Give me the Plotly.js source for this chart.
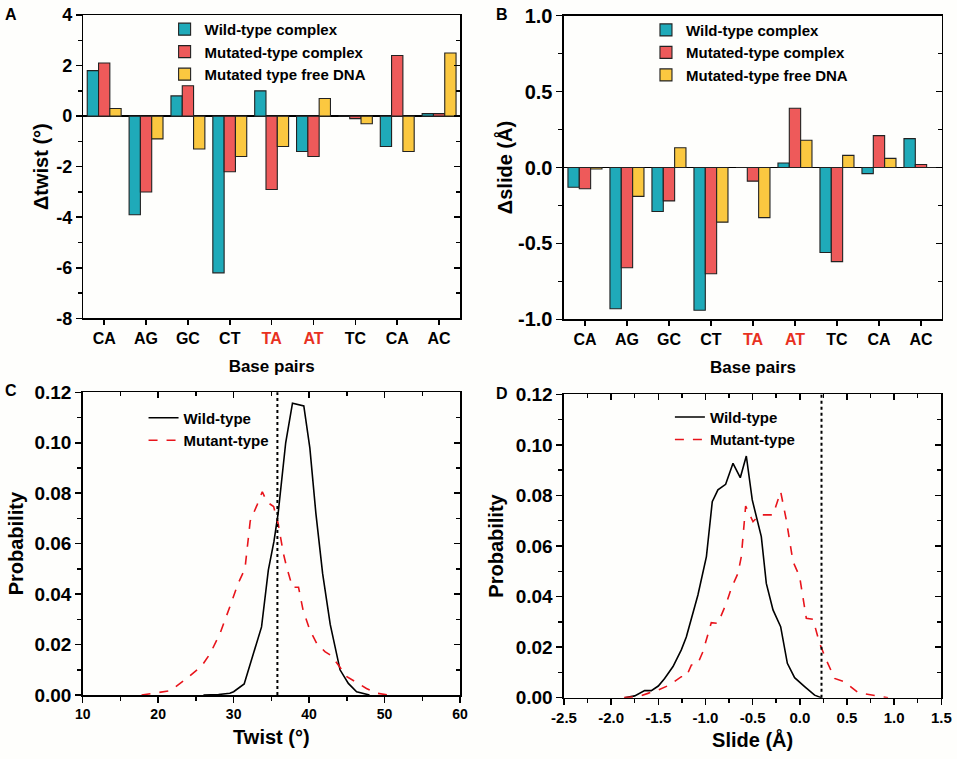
<!DOCTYPE html>
<html><head><meta charset="utf-8">
<script src="https://cdn.plot.ly/plotly-3.0.1.min.js"></script>
<style>html,body{margin:0;padding:0;background:#fff}#chart{width:957px;height:759px}</style>
</head><body><div id="chart"></div>
<script>
// ---------- data ----------
const basePairs = ['CA','AG','GC','CT','TA','AT','TC','CA','AC'];
const mutatedSite = [false,false,false,false,true,true,false,false,false];

const twistWild        = [1.8,-3.9,0.8,-6.2,1.0,-1.4,0,-1.2,0.1];
const twistMutComplex  = [2.1,-3.0,1.2,-2.2,-2.9,-1.6,-0.1,2.4,0.1];
const twistMutFree     = [0.3,-0.9,-1.3,-1.6,-1.2,0.7,-0.3,-1.4,2.5];

const slideWild        = [-0.13,-0.93,-0.29,-0.94,0,0.03,-0.56,-0.04,0.19];
const slideMutComplex  = [-0.14,-0.66,-0.22,-0.70,-0.09,0.39,-0.62,0.21,0.02];
const slideMutFree     = [-0.01,-0.19,0.13,-0.36,-0.33,0.18,0.08,0.06,0];

const twistWildX = [26,28,29.5,30,31.4,32.6,33.7,34.6,35.35,35.9,36.4,36.9,37.8,39.3,40.1,40.9,41.8,42.8,44.1,45.2,46.3,47.6,48];
const twistWildY = [0,0.0002,0.0007,0.0013,0.0044,0.0165,0.027,0.0495,0.061,0.072,0.085,0.100,0.1157,0.1146,0.098,0.072,0.048,0.028,0.010,0.0046,0.0013,0.0003,0];
const twistMutX = [17.8,19.8,21.6,23.8,25.8,26.9,28.2,29.5,30.6,31.5,32.2,33.1,33.8,34.4,35.3,35.9,36.6,37.0,37.8,38.6,39.2,40.1,41.0,42.1,42.8,43.7,45.0,46.5,47.6,49.0,50.5];
const twistMutY = [0,0.001,0.0017,0.0066,0.0116,0.0165,0.0244,0.035,0.0443,0.050,0.069,0.0753,0.0806,0.0766,0.0747,0.068,0.056,0.051,0.0427,0.0427,0.0337,0.0258,0.0205,0.0172,0.0159,0.0126,0.0073,0.0046,0.0026,0.0007,0];

const slideWildX = [-1.857,-1.75,-1.645,-1.574,-1.50,-1.433,-1.344,-1.256,-1.203,-1.15,-1.08,-0.99,-0.928,-0.868,-0.786,-0.708,-0.631,-0.567,-0.504,-0.408,-0.355,-0.284,-0.203,-0.132,-0.055,0.051,0.157,0.228];
const slideWildY = [0,0.0007,0.0028,0.0028,0.0046,0.0076,0.0123,0.0189,0.024,0.0307,0.0406,0.0558,0.0775,0.0822,0.0844,0.0927,0.087,0.0956,0.0782,0.0637,0.0452,0.0347,0.0281,0.0136,0.0079,0.0044,0.001,0];
const slideMutX = [-1.864,-1.716,-1.61,-1.504,-1.38,-1.256,-1.203,-1.15,-1.08,-1.027,-0.938,-0.868,-0.779,-0.726,-0.655,-0.62,-0.574,-0.496,-0.426,-0.284,-0.203,-0.143,-0.072,-0.002,0.069,0.14,0.21,0.281,0.369,0.475,0.617,0.758,0.935];
const slideMutY = [0,0.0004,0.0017,0.003,0.005,0.0083,0.0083,0.0129,0.0136,0.0182,0.0297,0.0294,0.0373,0.0433,0.0492,0.0558,0.0758,0.0696,0.0723,0.0723,0.0815,0.0703,0.0538,0.0479,0.0314,0.031,0.0215,0.0149,0.0076,0.0063,0.002,0.001,0];

const twistRef = 35.8;
const slideRef = 0.23;

// tick values
const twistDeltaTicks = [-8,-6,-4,-2,0,2,4];
const slideDeltaTicks = [-1,-0.5,0,0.5,1];
const twistTicks = [10,20,30,40,50,60];
const slideTicks = [-2.5,-2,-1.5,-1,-0.5,0,0.5,1,1.5];
const probTicks = [0,0.02,0.04,0.06,0.08,0.10,0.12];

// ---------- styling ----------
const FONT = '"Liberation Sans", Arial, sans-serif';
const TEAL = '#1FAAB9', RED = '#EE5A5A', YEL = '#FBC840';
const idx = basePairs.map((_, i) => i);
const tickText = basePairs.map((b, i) => mutatedSite[i] ? '<span style="color:#E8311F">' + b + '</span>' : b);
const fmt = (arr, d) => arr.map(v => v.toFixed(d));

function bar(name, y, color, xa, ya, lg) {
  return {type:'bar', name, x: idx, y, xaxis: xa, yaxis: ya, legend: lg,
    marker:{color, line:{color:'#222', width:1.1}}};
}
function line(name, x, y, xa, ya, lg, dash, color) {
  return {type:'scatter', mode:'lines', name, x, y, xaxis: xa, yaxis: ya, legend: lg,
    line:{color, width:1.6, dash}};
}
// empty helper traces so the overlaid tick-only axes are drawn
function holder(xa, ya) {
  return {type:'scatter', mode:'lines', x:[], y:[], xaxis: xa, yaxis: ya, showlegend:false, hoverinfo:'skip'};
}

const data = [
  bar('Wild-type complex', twistWild, TEAL, 'x', 'y', 'legend'),
  bar('Mutated-type complex', twistMutComplex, RED, 'x', 'y', 'legend'),
  bar('Mutated type free DNA', twistMutFree, YEL, 'x', 'y', 'legend'),
  bar('Wild-type complex', slideWild, TEAL, 'x2', 'y2', 'legend2'),
  bar('Mutated-type complex', slideMutComplex, RED, 'x2', 'y2', 'legend2'),
  bar('Mutated-type free DNA', slideMutFree, YEL, 'x2', 'y2', 'legend2'),
  line('Wild-type', twistWildX, twistWildY, 'x3', 'y3', 'legend3', 'solid', '#000'),
  line('Mutant-type', twistMutX, twistMutY, 'x3', 'y3', 'legend3', 'dash', '#E8141B'),
  line('Wild-type', slideWildX, slideWildY, 'x4', 'y4', 'legend4', 'solid', '#000'),
  line('Mutant-type', slideMutX, slideMutY, 'x4', 'y4', 'legend4', 'dash', '#E8141B'),
  holder('x', 'y5'), holder('x2', 'y6'),
  holder('x7', 'y3'), holder('x3', 'y7'),
  holder('x8', 'y4'), holder('x4', 'y8'),
];

function baseAxis(o) {
  return Object.assign({
    showline:true, linecolor:'#000', linewidth:1.5, mirror:true,
    showgrid:false, zeroline:false, ticks:'outside', ticklen:6, tickwidth:1.5, tickcolor:'#000',
    autorange:false, fixedrange:true
  }, o);
}
function tickMirror(o) {
  return Object.assign({
    showline:false, showgrid:false, zeroline:false, showticklabels:false,
    ticks:'inside', ticklen:6, tickwidth:1.5, tickcolor:'#000', autorange:false, fixedrange:true
  }, o);
}
const tf = (s) => ({family: FONT, size: s, color:'#000', weight:'bold'});
const minorY = (d) => ({dtick: d, ticks:'outside', ticklen:4, tickwidth:1.5, tickcolor:'#000'});
const minorIn = (d) => ({dtick: d, ticks:'inside', ticklen:4, tickwidth:1.5, tickcolor:'#000'});

const layout = {
  width:957, height:759, margin:{l:0,r:0,t:0,b:0},
  paper_bgcolor:'#fefefc', plot_bgcolor:'#fefefc',
  barmode:'group', bargap:0.19, bargroupgap:0,
  font:{family: FONT, color:'#000'},
  // Panel A
  xaxis: baseAxis({domain:[0.0870,0.4807], anchor:'y', range:[-0.5,8.5], tickvals: idx, ticktext: tickText,
    tickfont: tf(16), ticklen:5, title:{text:'Base pairs', font: tf(17), standoff:14}}),
  yaxis: baseAxis({domain:[0.5806,0.9802], anchor:'x', range:[-8,4], tickvals: twistDeltaTicks, ticktext: fmt(twistDeltaTicks,0),
    tickfont: tf(18), zeroline:true, zerolinecolor:'#000', zerolinewidth:1.8, minor: minorY(1),
    title:{text:'Δtwist (°)', font: tf(20), standoff:2}}),
  yaxis5: tickMirror({overlaying:'y', side:'right', anchor:'x', range:[-8,4], tick0:0, dtick:2, minor: minorIn(1)}),
  // Panel B
  xaxis2: baseAxis({domain:[0.5893,0.9843], anchor:'y2', range:[-0.5,8.5], tickvals: idx, ticktext: tickText,
    tickfont: tf(16), ticklen:5, title:{text:'Base pairs', font: tf(17), standoff:14}}),
  yaxis2: baseAxis({domain:[0.5793,0.9793], anchor:'x2', range:[-1,1], tickvals: slideDeltaTicks, ticktext: fmt(slideDeltaTicks,1),
    tickfont: tf(20), zeroline:true, zerolinecolor:'#000', zerolinewidth:1.8, minor: minorY(0.25),
    title:{text:'Δslide (Å)', font: tf(20), standoff:0}}),
  yaxis6: tickMirror({overlaying:'y2', side:'right', anchor:'x2', range:[-1,1], tick0:0, dtick:0.5, minor: minorIn(0.25)}),
  // Panel C
  xaxis3: baseAxis({domain:[0.0864,0.4807], anchor:'y3', range:[10,60], tickvals: twistTicks, ticktext: fmt(twistTicks,0),
    tickfont: tf(14), minor: minorY(5), title:{text:'Twist (°)', font: tf(20), standoff:8}}),
  yaxis3: baseAxis({domain:[0.0843,0.4831], anchor:'x3', range:[0,0.12], tickvals: probTicks, ticktext: fmt(probTicks,2),
    tickfont: tf(19), minor: minorY(0.01), title:{text:'Probability', font: tf(20), standoff:5}}),
  xaxis7: tickMirror({overlaying:'x3', side:'top', anchor:'y3', range:[10,60], tick0:10, dtick:10, minor: minorIn(5)}),
  yaxis7: tickMirror({overlaying:'y3', side:'right', anchor:'x3', range:[0,0.12], tick0:0, dtick:0.02, minor: minorIn(0.01)}),
  // Panel D
  xaxis4: baseAxis({domain:[0.5893,0.9836], anchor:'y4', range:[-2.5,1.5], tickvals: slideTicks, ticktext: fmt(slideTicks,1),
    tickfont: tf(15), minor: minorY(0.25), title:{text:'Slide (Å)', font: tf(20), standoff:8}}),
  yaxis4: baseAxis({domain:[0.0808,0.4805], anchor:'x4', range:[0,0.12], tickvals: probTicks, ticktext: fmt(probTicks,2),
    tickfont: tf(19), minor: minorY(0.01), title:{text:'Probability', font: tf(20), standoff:6}}),
  xaxis8: tickMirror({overlaying:'x4', side:'top', anchor:'y4', range:[-2.5,1.5], tick0:0, dtick:0.5, minor: minorIn(0.25)}),
  yaxis8: tickMirror({overlaying:'y4', side:'right', anchor:'x4', range:[0,0.12], tick0:0, dtick:0.02, minor: minorIn(0.01)}),

  legend:  {x:0.172, y:0.983, xanchor:'left', yanchor:'top', bgcolor:'rgba(0,0,0,0)', font: tf(15), tracegroupgap:0},
  legend2: {x:0.675, y:0.982, xanchor:'left', yanchor:'top', bgcolor:'rgba(0,0,0,0)', font: tf(15), tracegroupgap:0},
  legend3: {x:0.150, y:0.471, xanchor:'left', yanchor:'top', bgcolor:'rgba(0,0,0,0)', font: tf(15), tracegroupgap:0},
  legend4: {x:0.700, y:0.472, xanchor:'left', yanchor:'top', bgcolor:'rgba(0,0,0,0)', font: tf(15), tracegroupgap:0},

  shapes: [
    {type:'line', xref:'x3', yref:'y3 domain', x0:twistRef, x1:twistRef, y0:0, y1:1, line:{color:'#000', width:2, dash:'dot'}},
    {type:'line', xref:'x4', yref:'y4 domain', x0:slideRef, x1:slideRef, y0:0, y1:1, line:{color:'#000', width:2, dash:'dot'}}
  ],
  annotations: [
    {text:'<b>A</b>', xref:'paper', yref:'paper', x:3/957, y:1-14/759, xanchor:'left', yanchor:'middle', showarrow:false, font: tf(16)},
    {text:'<b>B</b>', xref:'paper', yref:'paper', x:494/957, y:1-14/759, xanchor:'left', yanchor:'middle', showarrow:false, font: tf(16)},
    {text:'<b>C</b>', xref:'paper', yref:'paper', x:3/957, y:1-390.5/759, xanchor:'left', yanchor:'middle', showarrow:false, font: tf(16)},
    {text:'<b>D</b>', xref:'paper', yref:'paper', x:494/957, y:1-393.5/759, xanchor:'left', yanchor:'middle', showarrow:false, font: tf(16)}
  ]
};

Plotly.newPlot('chart', data, layout, {displayModeBar:false, staticPlot:true});
</script>
</body></html>
